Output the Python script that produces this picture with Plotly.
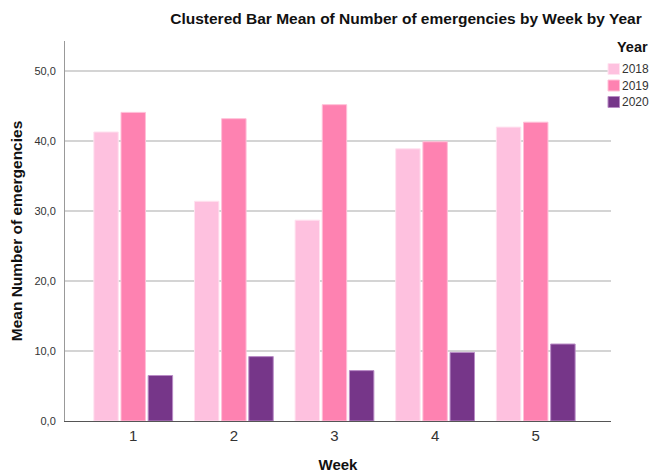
import plotly.graph_objects as go

weeks = [1, 2, 3, 4, 5]
week_labels = ["1", "2", "3", "4", "5"]
years = ["2018", "2019", "2020"]
mean_2018 = [41.3, 31.4, 28.7, 38.9, 42.0]
mean_2019 = [44.1, 43.2, 45.2, 39.9, 42.7]
mean_2020 = [6.5, 9.2, 7.2, 9.8, 11.0]
y_ticks = [0, 10, 20, 30, 40, 50]

colors = ["#FEC1DF", "#FE82B1", "#763689"]
line_colors = ["#FFE3F0", "#FFC0D8", "#B98CC6"]

# figure geometry (the page adds an 8px body margin, so layout is shifted by 8px)
W, H = 649, 465
ML, MR, MT, MB = 57, 46, 33, 52
PW, PH = W - ML - MR, H - MT - MB
BOTTOM = H - MB


def px_x(px):
    return (px - ML) / PW


def px_y(py):
    return (BOTTOM - py) / PH


fig = go.Figure()
for name, vals, c, lc in zip(years, [mean_2018, mean_2019, mean_2020], colors, line_colors):
    fig.add_trace(go.Bar(
        x=weeks, y=vals, name=name,
        marker=dict(color=c, line=dict(color=lc, width=1)),
    ))

# legend drawn by hand (SPSS-style compact legend)
shapes = []
annotations = [dict(
    text="<b>Year</b>", xref="paper", yref="paper",
    x=px_x(607), xanchor="left", y=px_y(39), yanchor="middle",
    showarrow=False, font=dict(size=14.5, color="#111111"),
)]
for i, (name, c, lc) in enumerate(zip(years, colors, line_colors)):
    top = 55.5 + i * 16.5
    shapes.append(dict(
        type="rect", xref="paper", yref="paper",
        x0=px_x(600), x1=px_x(611.5), y0=px_y(top + 11), y1=px_y(top),
        fillcolor=c, line=dict(color=lc, width=1),
    ))
    annotations.append(dict(
        text=name, xref="paper", yref="paper",
        x=px_x(612), xanchor="left", y=px_y(top + 5.5), yanchor="middle",
        showarrow=False, font=dict(size=12, color="#333333"),
    ))

font_family = "Liberation Sans, Arial, sans-serif"
fig.update_layout(
    width=W, height=H,
    margin=dict(l=ML, r=MR, t=MT, b=MB, autoexpand=False),
    paper_bgcolor="white", plot_bgcolor="white",
    barmode="group", bargap=0.19, bargroupgap=0.1,
    separators=",.",
    font=dict(family=font_family, color="#333333"),
    title=dict(
        text="<b>Clustered Bar Mean of Number of emergencies by Week by Year</b>",
        xref="paper", x=px_x(398), xanchor="center", y=1 - 11 / H, yanchor="middle",
        font=dict(size=15.5, color="#111111"),
    ),
    showlegend=False,
    shapes=shapes,
    annotations=annotations,
    xaxis=dict(
        range=[0.322, 5.748],
        tickvals=weeks, ticktext=week_labels,
        tickfont=dict(size=15, color="#333333"),
        showgrid=False, zeroline=False,
        showline=True, linecolor="#555555", linewidth=1,
        ticks="", ticklabelstandoff=1,
        title=dict(text="<b>Week</b>", font=dict(size=15, color="#111111"), standoff=17),
    ),
    yaxis=dict(
        range=[0, 54.3],
        tickvals=y_ticks, tickformat=".1f",
        tickfont=dict(size=11, color="#333333"),
        showgrid=True, gridcolor="#D4D4D4", gridwidth=1.5,
        zeroline=False,
        showline=True, linecolor="#999999", linewidth=1,
        ticks="", ticklabelstandoff=6,
        title=dict(text="<b>Mean Number of emergencies</b>", font=dict(size=15.5, color="#111111"), standoff=10),
    ),
)

fig.write_html("out.html")
